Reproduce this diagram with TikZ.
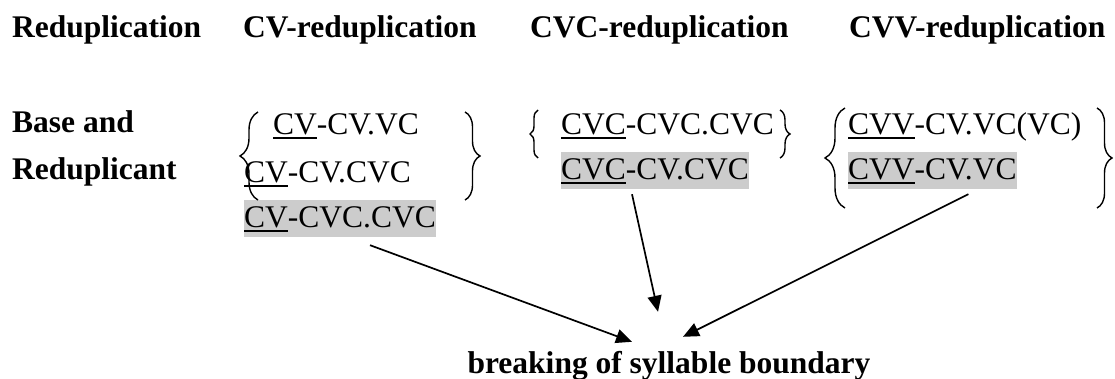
\documentclass[tikz,border=0pt]{standalone}
\usepackage{fontspec}
\setmainfont{Liberation Serif}
\usetikzlibrary{arrows.meta,decorations.pathreplacing}
\newcommand\bodysize{\fontsize{31.5}{38}\selectfont}
\def\Pre#1{\setbox0\hbox{#1}\rlap{\rule[-4pt]{\wd0}{2.2pt}}\box0}
\tikzset{
	head/.style={anchor=base west, inner sep=0pt, font=\bodysize\bfseries},
	form/.style={anchor=base west, inner sep=0pt, text height=28pt,
		text depth=9pt, font=\bodysize},
	shaded/.style={form, fill=black!20},
	curly/.style={decorate, decoration={brace, amplitude=#1}, line width=1.4pt},
	link/.style={-{Triangle[length=16pt,width=14pt]}, line width=1.7pt}
}

\begin{document}
\begin{tikzpicture}[x=1pt,y=-1pt]
\useasboundingbox (0,0) rectangle (1115,379);
% heads
\node (HeadRed) [head] at (12,38) {Reduplication};
\node (HeadCV) [head] at (243,38) {CV-reduplication};
\node (HeadCVC) [head] at (530,38) {CVC-reduplication};
\node (HeadCVV) [head] at (849,38) {CVV-reduplication};
\node (Base) [head] at (12,133) {Base and};
\node (Redup) [head] at (12,180) {Reduplicant};
% CV
\node (CVone) [form] at (273,135) {\Pre{CV}-CV.VC};
\node (CVtwo) [form] at (244,183) {\Pre{CV}-CV.CVC};
\node (CVthree) [shaded] at (244,228) {\Pre{CV}-CVC.CVC};
\draw[curly=18pt] (258,200) -- (258,112);
\draw[curly=15pt] (465,112) -- (465,200);
% CVC
\node (CVCone) [form] at (561,135) {\Pre{CVC}-CVC.CVC};
\node (CVCtwo) [shaded] at (561,180) {\Pre{CVC}-CV.CVC};
\draw[curly=8pt] (538,158) -- (538,110);
\draw[curly=10pt] (780,110) -- (780,158);
% CVV
\node (CVVone) [form] at (848,135) {\Pre{CVV}-CV.VC(VC)};
\node (CVVtwo) [shaded] at (848,180) {\Pre{CVV}-CV.VC};
\draw[curly=20pt] (845,208) -- (845,108);
\draw[curly=15pt] (1097,108) -- (1097,208);
% result
\node (Break) [head, anchor=base, text height=22pt] at (669,373) {breaking of syllable boundary};
\draw[link] ([xshift=30pt,yshift=-8pt]CVthree.south) -- ([xshift=-37pt,yshift=9pt]Break.north);
\draw[link] ([xshift=-23pt,yshift=-5pt]CVCtwo.south) -- ([xshift=-11pt,yshift=39pt]Break.north);
\draw[link] ([xshift=36pt,yshift=-5pt]CVVtwo.south) -- ([xshift=14pt,yshift=14pt]Break.north);
\end{tikzpicture}
\end{document}
